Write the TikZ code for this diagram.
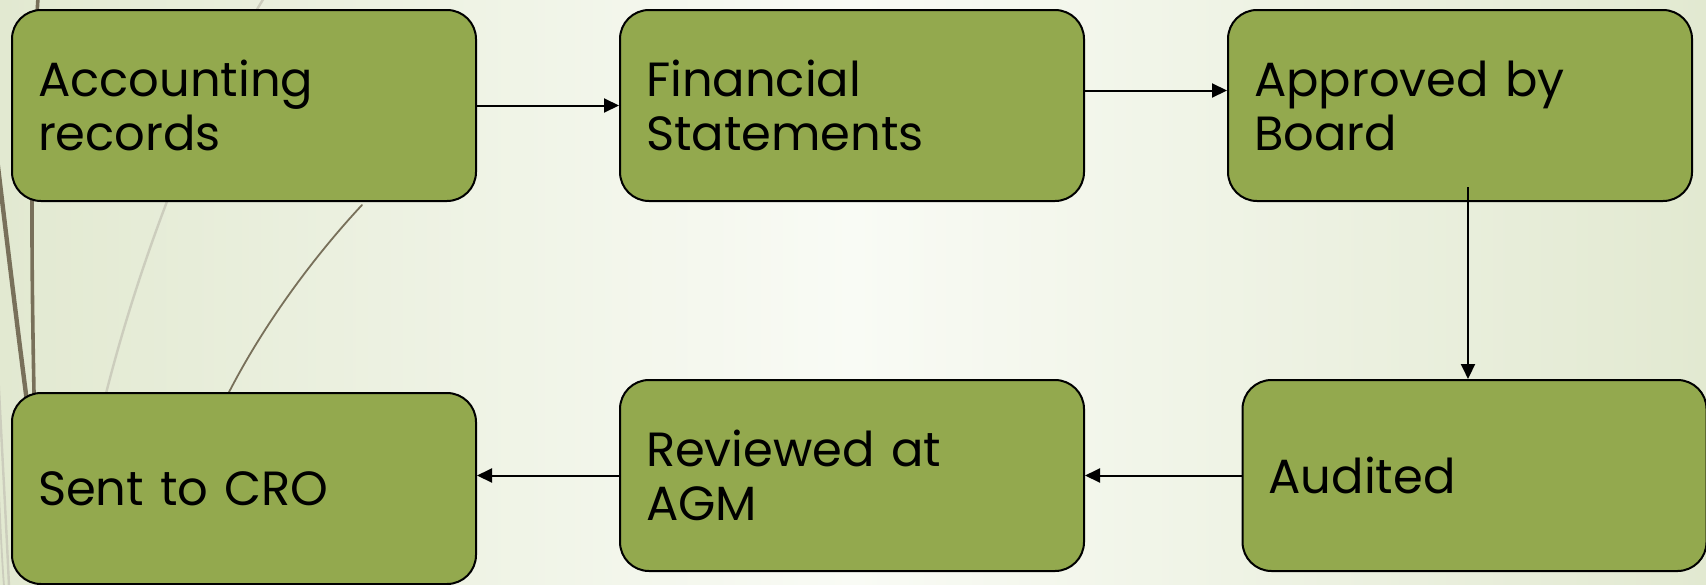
\documentclass[tikz,border=0pt]{standalone}
\usepackage{fontspec}
\setmainfont{Poppins}
\usetikzlibrary{arrows.meta}
\definecolor{boxgreen}{RGB}{147,169,78}
\definecolor{bgedge}{RGB}{226,233,209}
\definecolor{bgmid}{RGB}{249,251,245}
\definecolor{stemdark}{RGB}{120,112,90}
\definecolor{stemlight}{RGB}{204,205,189}
\begin{document}
\begin{tikzpicture}[x=0.5pt,y=-0.5pt,
  stepbox/.style={draw=black, line width=1pt, fill=boxgreen,
    rounded corners=14.5pt, minimum width=232pt, minimum height=95.5pt,
    inner xsep=13pt, inner ysep=0pt, text width=206pt, align=left,
    font=\fontsize{24}{27}\selectfont, anchor=north west},
  flow/.style={draw=black, line width=1pt,
    -{Triangle[length=7.5pt,width=7pt]}},
  stem/.style={line cap=round}]

% page and soft background
\useasboundingbox (0,0) rectangle (1706,584);
\shade[left color=bgedge, right color=bgedge, middle color=bgmid]
  (0,0) rectangle (1706,584);

% grass-like stems on the left
\draw[stem, stemdark, line width=2.2pt] (-4,150) .. controls (8,250) and (20,350) .. (32,440);
\draw[stem, stemdark, line width=1.8pt] (38,-2) .. controls (30,120) and (31,260) .. (35,440);
\draw[stem, stemlight, line width=1.2pt] (264,-2) .. controls (200,100) and (130,280) .. (95,440);
\draw[stem, stemdark, line width=0.9pt] (362,205) .. controls (320,250) and (265,320) .. (225,400);
\draw[stem, stemlight, line width=1.2pt] (-2,370) .. controls (2,450) and (6,520) .. (9,586);
\draw[stem, stemlight, line width=0.9pt] (-2,470) .. controls (0,520) and (2,560) .. (4,586);

% process steps
\node[stepbox] (acc) at (11,9) {Accounting\\records};
\node[stepbox] (fin) at (619,9) {Financial\\Statements};
\node[stepbox] (app) at (1227,9) {Approved by\\Board};
\node[stepbox] (aud) at (1241.5,379) {Audited};
\node[stepbox] (rev) at (619,379) {Reviewed at\\AGM};
\node[stepbox] (cro) at (11,392) {Sent to CRO};

% flow between steps
\draw[flow] (acc.east) -- (fin.west);
\draw[flow] ([yshift=7.5pt]fin.east) -- ([yshift=7.5pt]app.west);
\coordinate (down) at ([xshift=4pt,yshift=7.5pt]app.south);
\draw[flow] (down) -- (down |- aud.north);
\draw[flow] (aud.west) -- (rev.east);
\draw[flow] (rev.west) -- (rev.west -| cro.east);
\end{tikzpicture}
\end{document}
